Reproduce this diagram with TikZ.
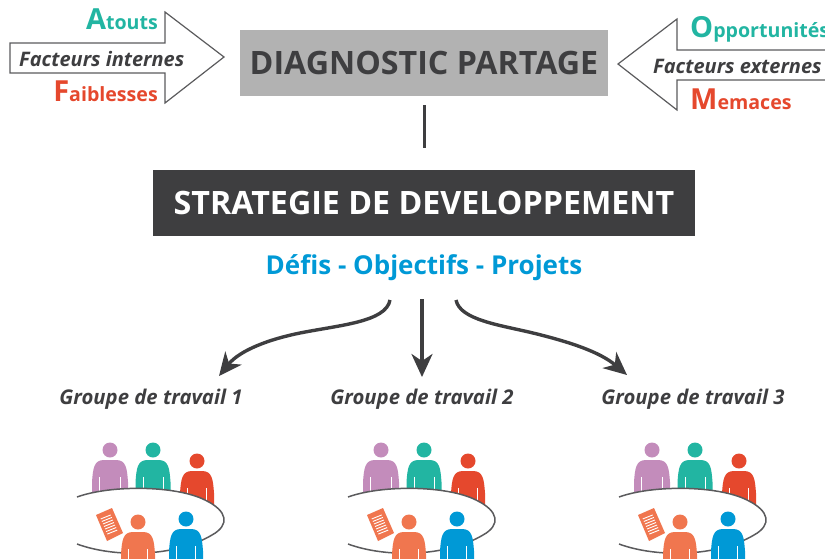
\documentclass[tikz,border=0pt]{standalone}
\usepackage{fontspec}
\setmainfont{Open Sans}
\usetikzlibrary{arrows.meta,calc}
\definecolor{cteal}{HTML}{22B5A2}
\definecolor{cred}{HTML}{E5482D}
\definecolor{cpink}{HTML}{C38CBB}
\definecolor{corange}{HTML}{F0764F}
\definecolor{cblue}{HTML}{0099D6}
\definecolor{cdark}{HTML}{3E3E40}
\definecolor{cgray}{HTML}{B2B2B2}
\tikzset{
  txt/.style={inner sep=0pt,anchor=base west,text=cdark},
  factor/.style={txt,font=\fontsize{20}{20}\selectfont\bfseries\itshape},
  grp/.style={txt,font=\fontsize{20.3}{20}\selectfont\bfseries\itshape,anchor=base},
  label/.style={txt,font=\fontsize{19.6}{20}\selectfont\bfseries},
  hollow/.style={draw=cdark!85,line width=1.2pt,fill=white,line join=miter},
  flow/.style={draw=cdark,line width=3.4pt,-{Stealth[length=23pt,width=21pt,inset=7pt]}},
  table/.style={draw=cdark!85,line width=1.5pt,fill=white},
}
\newcommand{\person}[4]{% colour, head x, head y, half width
  \fill[#1] (#2,#3) circle (7.5);
  \fill[#1] (#2-#4,#3+50) -- (#2-#4,#3+32) .. controls (#2-#4+1,#3+18) and (#2-#4+2,#3+10) .. (#2-#4+12,#3+10)
     -- (#2+#4-12,#3+10) .. controls (#2+#4-2,#3+10) and (#2+#4-1,#3+18) .. (#2+#4,#3+32) -- (#2+#4,#3+50) -- cycle;
  \draw[white,line width=0.8pt] (#2-#4+7.5,#3+27) -- (#2-#4+7.5,#3+50);
  \draw[white,line width=0.8pt] (#2+#4-7.5,#3+27) -- (#2+#4-7.5,#3+50);
}
\begin{document}
\begin{tikzpicture}[x=1pt,y=-1pt]
\useasboundingbox (0,0) rectangle (825,558);
% left block
\draw[hollow] (10,43) -- (165,43) -- (165,12) -- (224,57) -- (165,103) -- (165,73) -- (10,73) -- cycle;
\node[factor] (fi) at (19,66) {Facteurs internes};
\node[label,text=cteal,anchor=base east] (at) at (158,29) {{\fontsize{29}{26}\selectfont A}touts};
\node[label,text=cred,anchor=base east] (fa) at (158,101) {{\fontsize{29}{26}\selectfont F}aiblesses};
% right block
\draw[hollow] (826,50) -- (677,50) -- (677,19) -- (618,64) -- (677,110) -- (677,80) -- (826,80);
\node[factor] (fe) at (653,73) {Facteurs externes};
\node[label,text=cteal] (op) at (690,37) {{\fontsize{29}{26}\selectfont O}pportunités};
\node[label,text=cred] (me) at (690,109) {{\fontsize{29}{26}\selectfont M}emaces};
% boxes
\node[fill=cgray,minimum width=368pt,minimum height=66pt,inner sep=0pt,text=cdark,font=\fontsize{32.2}{32}\selectfont\bfseries] (diag) at (424,63) {DIAGNOSTIC PARTAGE};
\node[fill=cdark,minimum width=542pt,minimum height=66pt,inner sep=0pt,text=white,font=\fontsize{32.2}{32}\selectfont\bfseries] (strat) at (424,203) {STRATEGIE DE DEVELOPPEMENT};
\draw[draw=cdark,line width=3pt,shorten <=9pt,shorten >=22pt] (diag.south) -- (strat.north);
\node[inner sep=0pt,text=cblue,font=\fontsize{26}{26}\selectfont\bfseries] (defis) at (424,268) {Défis - Objectifs - Projets};
% groups
\node[grp] (g1) at (151,404) {Groupe de travail 1};
\node[grp] (g2) at (422,404) {Groupe de travail 2};
\node[grp] (g3) at (693,404) {Groupe de travail 3};
\coordinate (sl) at (390,300);
\coordinate (sc) at (422,299);
\coordinate (sr) at (456,300);
\coordinate (el) at (219,376);
\coordinate (ec) at (422,377);
\coordinate (er) at (627,375);
\draw[flow] (sl) .. controls (386,322) and (340,325) .. (300,333) .. controls (270,339) and (240,350) .. (el);
\draw[flow] (sc) -- (ec);
\draw[flow] (sr) .. controls (460,320) and (500,325) .. (533,333) .. controls (570,342) and (600,352) .. (er);
% meeting scenes
\foreach \dx in {0,271,542}{
\begin{scope}[xshift=\dx pt]
  \person{cpink}{110}{450}{18}
  \person{cteal}{153}{450}{17.5}
  \person{cred}{197}{461}{17}
  \draw[table] (77,497) .. controls (110,485) and (175,485) .. (205,500) .. controls (228,511) and (230,525) .. (212,535)
    .. controls (175,557) and (115,558) .. (77,544);
  \fill[corange] (96,515) -- (112,508) -- (123,533) -- (107,541) -- cycle;
  \foreach \t in {0.14,0.26,0.38,0.5,0.62,0.74,0.86}{
    \draw[white,line width=0.9pt] ($(99.5,516)!\t!(108.5,537)$) -- ($(109.5,512)!\t!(118.5,533)$);
  }
  \person{corange}{138}{522}{17}
  \person{cblue}{186}{519}{17}
\end{scope}
}
\end{tikzpicture}
\end{document}
